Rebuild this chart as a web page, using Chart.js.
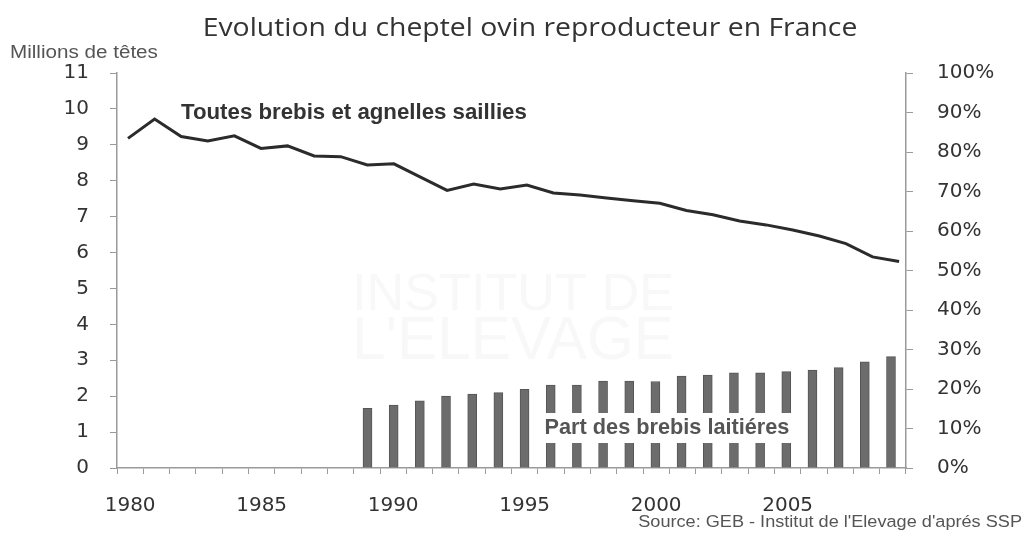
<!DOCTYPE html>
<html lang="fr">
<head>
<meta charset="utf-8">
<title>Evolution du cheptel ovin reproducteur en France</title>
<script src="https://cdn.jsdelivr.net/npm/chart.js@4.4.1/dist/chart.umd.min.js"></script>
<style>
  html, body { margin: 0; padding: 0; background: #fff; }
  #wrap { width: 1032px; height: 537px; position: relative; }
</style>
</head>
<body>
<div id="wrap"><canvas id="chart"></canvas></div>
<script>
// Années (axe des abscisses)
const years = [1980, 1981, 1982, 1983, 1984, 1985, 1986, 1987, 1988, 1989,
               1990, 1991, 1992, 1993, 1994, 1995, 1996, 1997, 1998, 1999,
               2000, 2001, 2002, 2003, 2004, 2005, 2006, 2007, 2008, 2009];

// Toutes brebis et agnelles saillies (millions de têtes)
const ewesMillions = [9.18, 9.72, 9.23, 9.11, 9.25, 8.90, 8.97, 8.69, 8.67, 8.44,
                      8.47, 8.10, 7.73, 7.91, 7.77, 7.88, 7.66, 7.60, 7.52, 7.44,
                      7.37, 7.17, 7.05, 6.88, 6.77, 6.63, 6.46, 6.25, 5.88, 5.75];

// Part des brebis laitières (%), pas de donnée avant 1989
const dairyShare = [null, null, null, null, null, null, null, null, null, 15.1,
                    15.9, 17.0, 18.2, 18.7, 19.1, 19.9, 21.0, 21.0, 22.0, 22.0,
                    21.9, 23.3, 23.5, 24.1, 24.1, 24.4, 24.8, 25.4, 26.9, 28.2];

// Graduations
const leftTicks = [0, 1, 2, 3, 4, 5, 6, 7, 8, 9, 10, 11];
const rightTicks = [0, 10, 20, 30, 40, 50, 60, 70, 80, 90, 100];

const TICK_FONT = { family: '"DejaVu Sans", Verdana, sans-serif', size: 20 };
const AXIS_GREY = '#9a9a9a';

// Draw a text whose font size is chosen so that it spans a given width
// (stretch > 1 widens the glyphs like the scanned original)
function fitText(ctx, text, opts) {
    const stretch = opts.stretch || 1;
    ctx.save();
    ctx.font = `${opts.weight || 'normal'} 100px ${opts.family}`;
    const size = 100 * opts.width / stretch / ctx.measureText(text).width;
    ctx.font = `${opts.weight || 'normal'} ${size}px ${opts.family}`;
    ctx.textAlign = opts.align || 'left';
    ctx.textBaseline = 'middle';
    const w = ctx.measureText(text).width * stretch;
    if (opts.box) {
        let left = opts.x;
        if (ctx.textAlign === 'center') left -= w / 2;
        if (ctx.textAlign === 'right') left -= w;
        ctx.fillStyle = '#fff';
        ctx.fillRect(left - opts.box[0], opts.y - opts.box[1], w + 2 * opts.box[0], 2 * opts.box[1]);
    }
    ctx.fillStyle = opts.color;
    ctx.translate(opts.x, opts.y);
    ctx.scale(stretch, 1);
    ctx.fillText(text, 0, 0);
    ctx.restore();
}

const textPlugin = {
    id: 'texts',
    beforeDatasetsDraw(chart) {
        // watermark, barely visible on the scan
        const ctx = chart.ctx;
        fitText(ctx, 'INSTITUT DE', { family: '"Liberation Sans", Arial',
            width: 322, x: 513, y: 296, align: 'center', color: '#f8f8f8' });
        fitText(ctx, "L'ELEVAGE", { family: '"Liberation Sans", Arial',
            width: 322, x: 513, y: 342, align: 'center', color: '#f8f8f8' });
    },
    afterDraw(chart) {
        const ctx = chart.ctx;
        fitText(ctx, 'Evolution du cheptel ovin reproducteur en France', {
            family: '"Open Sans", sans-serif', width: 655, x: 530, y: 29,
            align: 'center', color: '#333', stretch: 1.08 });
        fitText(ctx, 'Millions de têtes', {
            family: '"Liberation Sans", Arial, sans-serif', width: 148, x: 10, y: 53,
            color: '#555', stretch: 1.15 });
        fitText(ctx, "Source: GEB - Institut de l'Elevage d'aprés SSP", {
            family: '"Liberation Sans", Arial, sans-serif', width: 384, x: 1022, y: 522,
            align: 'right', color: '#555', stretch: 1.05 });
        fitText(ctx, 'Toutes brebis et agnelles saillies', {
            family: '"Liberation Sans", Arial, sans-serif', weight: 'bold', width: 346,
            x: 181, y: 113, color: '#333' });
        fitText(ctx, 'Part des brebis laitiéres', {
            family: '"Liberation Sans", Arial, sans-serif', weight: 'bold', width: 245,
            x: 667, y: 428, align: 'center', color: '#555', box: [8, 15] });
    }
};

const ctx = document.getElementById('chart').getContext('2d');

new Chart(ctx, {
    type: 'bar',
    data: {
        labels: years,
        datasets: [
            {
                type: 'line',
                label: 'Toutes brebis et agnelles saillies',
                data: years.map((yr, i) => ({ x: yr, y: ewesMillions[i] })),
                xAxisID: 'xLine',
                yAxisID: 'y',
                borderColor: '#2b2b2b',
                borderWidth: 3,
                pointRadius: 0,
                tension: 0,
                order: 0
            },
            {
                type: 'bar',
                label: 'Part des brebis laitières',
                data: years.map((yr, i) => ({ x: yr, y: dairyShare[i] })),
                xAxisID: 'xBar',
                yAxisID: 'y2',
                backgroundColor: '#6c6c6c',
                borderColor: '#555',
                borderWidth: 1,
                barThickness: 9,
                order: 1
            }
        ]
    },
    options: {
        responsive: true,
        maintainAspectRatio: false,
        animation: false,
        layout: { padding: { top: 73, left: 17, right: 30, bottom: 19 } },
        plugins: {
            legend: { display: false },
            title: { display: false },
            tooltip: { enabled: false }
        },
        scales: {
            x: {
                type: 'category',
                position: 'bottom',
                offset: true,
                grid: { offset: true, drawOnChartArea: false, tickLength: 6, color: AXIS_GREY },
                border: { color: AXIS_GREY, width: 1.5 },
                ticks: {
                    autoSkip: false,
                    maxRotation: 0,
                    padding: 20,
                    color: '#333',
                    font: TICK_FONT,
                    callback: (v, i) => (years[i] % 5 === 0 ? String(years[i]) : '')
                },
                afterFit: s => { s.height = 50; }
            },
            // the line and the bars sit on slightly different spacings in the original
            xLine: { type: 'linear', display: false, offset: false, min: 1979.586, max: 2009.259 },
            xBar: { type: 'linear', display: false, offset: false, min: 1979.602, max: 2009.745 },
            y: {
                position: 'left',
                min: 0,
                max: 11,
                afterBuildTicks: s => { s.ticks = leftTicks.map(v => ({ value: v })); },
                grid: { drawOnChartArea: false, tickLength: 7, color: AXIS_GREY },
                border: { color: AXIS_GREY, width: 1.5 },
                ticks: { padding: 21, color: '#333', font: TICK_FONT },
                afterFit: s => { s.width = 100; }
            },
            y2: {
                position: 'right',
                min: 0,
                max: 100,
                afterBuildTicks: s => { s.ticks = rightTicks.map(v => ({ value: v })); },
                grid: { drawOnChartArea: false, tickLength: 7, color: AXIS_GREY },
                border: { color: AXIS_GREY, width: 1.5 },
                ticks: { padding: 24, color: '#333', font: TICK_FONT, callback: v => v + '%' },
                afterFit: s => { s.width = 96; }
            }
        }
    },
    plugins: [textPlugin]
});
</script>
</body>
</html>
